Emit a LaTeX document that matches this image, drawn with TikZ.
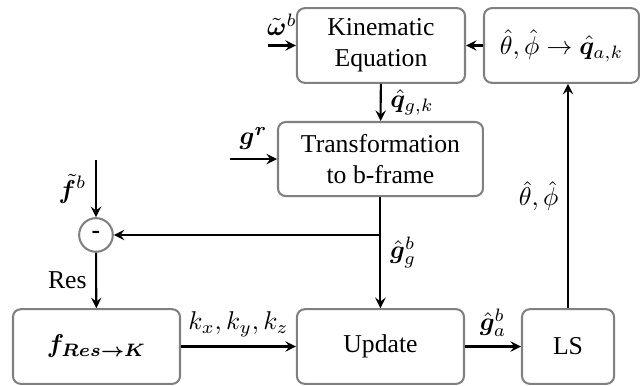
\documentclass[tikz,border=0pt]{standalone}
\usepackage{fontspec}
\setmainfont{Liberation Serif}
\usepackage{amsmath}
\usepackage{bm}
\tikzset{
  block/.style={draw=gray,rounded corners=3pt,align=center,minimum height=1.02cm},
  sumnode/.style={draw=gray,circle,minimum size=0.46cm,inner sep=0pt}
}
\begin{document}
\begin{tikzpicture}[>=stealth,->,thick]
  \useasboundingbox (0,0) rectangle (8.749,5.263);

  % Top row
  \node[block,minimum width=2.297cm] (kin) at (5.208,4.641) {Kinematic\\Equation};
  \node[block,minimum width=2.119cm] (qa) at (7.676,4.641)
    {$\hat{\theta},\hat{\phi}\rightarrow\hat{\bm{q}}_{a,k}$};

  % Middle
  \node[block,minimum width=2.802cm,minimum height=1.012cm] (trans) at (5.201,3.089)
    {Transformation\\to b-frame};
  \node[sumnode] (diff) at (1.312,2.051) {\textbf{-}};

  % Bottom row
  \node[block,minimum width=2.283cm] (fres) at (1.319,0.526)
    {$\bm{f}_{\bm{Res\rightarrow K}}$};
  \node[block,minimum width=2.283cm] (upd) at (5.201,0.526) {Update};
  \node[block,minimum width=1.258cm] (ls) at (7.765,0.526) {LS};

  % Inputs
  \coordinate (win) at (3.664,4.641);
  \coordinate (gin) at (3.144,3.089);
  \coordinate (fin) at (1.312,3.076);
  \coordinate (split) at (5.201,2.051);

  % Connections
  \draw (win) -- node[above] {$\tilde{\bm{\omega}}^{b}$} (kin);
  \draw (gin) -- node[above] {$\bm{g}^{\bm{r}}$} (trans);
  \draw (fin) -- node[left] {$\tilde{\bm{f}}^{b}$} (diff);
  \draw (qa) -- (kin);
  \draw (kin) -- node[right] {$\hat{\bm{q}}_{g,k}$} (trans);
  \draw (trans) -- node[right] {$\hat{\bm{g}}^{b}_{g}$} (upd);
  \draw (split) -- (diff);
  \draw (diff) -- node[left] {Res} (fres);
  \draw (fres) -- node[above] {$k_x,k_y,k_z$} (upd);
  \draw (upd) -- node[above] {$\hat{\bm{g}}^{b}_{a}$} (ls);
  \draw (ls) -- node[left] {$\hat{\theta},\hat{\phi}$} (ls |- qa.south);
\end{tikzpicture}
\end{document}
